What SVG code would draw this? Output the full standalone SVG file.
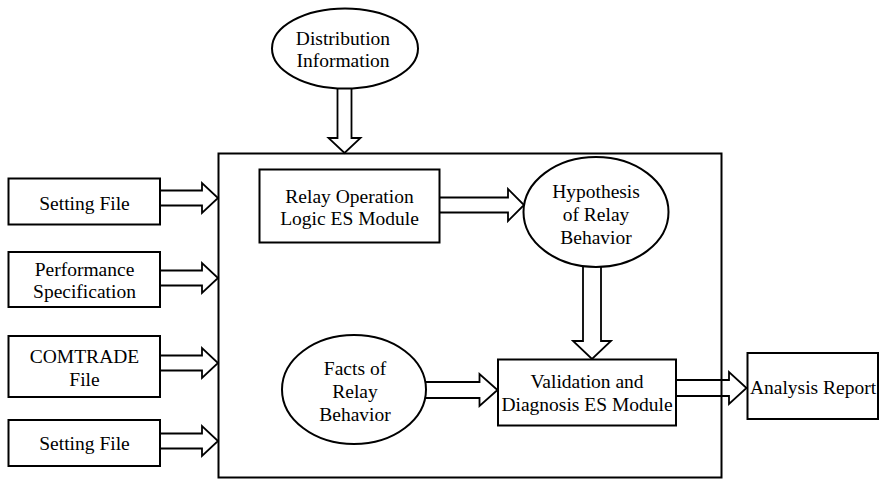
<svg xmlns="http://www.w3.org/2000/svg" width="880" height="480" viewBox="0 0 880 480">
<style>
.box{fill:#fff;stroke:#000;stroke-width:2}
.frame{fill:none;stroke:#000;stroke-width:2}
.arr{fill:none;stroke:#000;stroke-width:1.8;stroke-linejoin:miter}
text{font-family:'Liberation Serif','Tinos','Times New Roman','DejaVu Serif',serif;font-size:19.5px;fill:#000;text-anchor:middle}
</style>
<rect width="880" height="480" fill="#fff"/>
<g id="main-frame"><rect class="frame" x="218.5" y="153.5" width="503" height="324"/></g>
<g id="connectors">
<path class="arr" d="M337.5,88 V138 H328.5 L344.5,153 L360.5,138 H351.5 V88"/>
<path class="arr" d="M160,190.5 H202 V183 L218,198 L202,213 V205.5 H160"/>
<path class="arr" d="M160,270.5 H202 V263 L218,278 L202,293 V285.5 H160"/>
<path class="arr" d="M160,355.5 H202 V348 L218,363 L202,378 V370.5 H160"/>
<path class="arr" d="M160,433.5 H202 V426 L218,441 L202,456 V448.5 H160"/>
<path class="arr" d="M439,197.5 H508 V189 L524,205 L508,221 V212.5 H439"/>
<path class="arr" d="M583,266 V341 H573 L592,359 L611,341 H601 V266"/>
<path class="arr" d="M426,382 H479.5 V374 L497.5,390 L479.5,406 V398 H426"/>
<path class="arr" d="M676,380 H729 V372 L746.5,388 L729,404 V396 H676"/>
</g>
<g id="distribution">
<ellipse class="box" cx="345" cy="48.5" rx="73" ry="40"/>
<text x="343" y="44.5">Distribution</text>
<text x="343" y="67">Information</text>
</g>
<g id="setting-file-1">
<rect class="box" x="8.5" y="178.5" width="151.5" height="46"/>
<text x="84.5" y="209.5">Setting File</text>
</g>
<g id="performance-spec">
<rect class="box" x="8.5" y="252" width="151.5" height="55"/>
<text x="84.5" y="275.5">Performance</text>
<text x="84.5" y="297.5">Specification</text>
</g>
<g id="comtrade">
<rect class="box" x="8.5" y="336" width="151.5" height="61"/>
<text x="84.5" y="362.5">COMTRADE</text>
<text x="84.5" y="385.5">File</text>
</g>
<g id="setting-file-2">
<rect class="box" x="8.5" y="420" width="151.5" height="46"/>
<text x="84.5" y="449.5">Setting File</text>
</g>
<g id="relay-logic">
<rect class="box" x="259.5" y="169.5" width="180" height="73"/>
<text x="349.5" y="203">Relay Operation</text>
<text x="349.5" y="224.5">Logic ES Module</text>
</g>
<g id="hypothesis">
<ellipse class="box" cx="596" cy="212" rx="72.5" ry="55"/>
<text x="596" y="198">Hypothesis</text>
<text x="596" y="221">of Relay</text>
<text x="596" y="243.5">Behavior</text>
</g>
<g id="facts">
<ellipse class="box" cx="354" cy="389.5" rx="72" ry="54.5"/>
<text x="355" y="374.5">Facts of</text>
<text x="355" y="397.5">Relay</text>
<text x="355" y="421">Behavior</text>
</g>
<g id="validation">
<rect class="box" x="498" y="359.5" width="178" height="66"/>
<text x="587" y="388">Validation and</text>
<text x="587" y="411">Diagnosis ES Module</text>
</g>
<g id="analysis-report">
<rect class="box" x="747.5" y="353" width="130.5" height="66"/>
<text x="813" y="394">Analysis Report</text>
</g>
</svg>
